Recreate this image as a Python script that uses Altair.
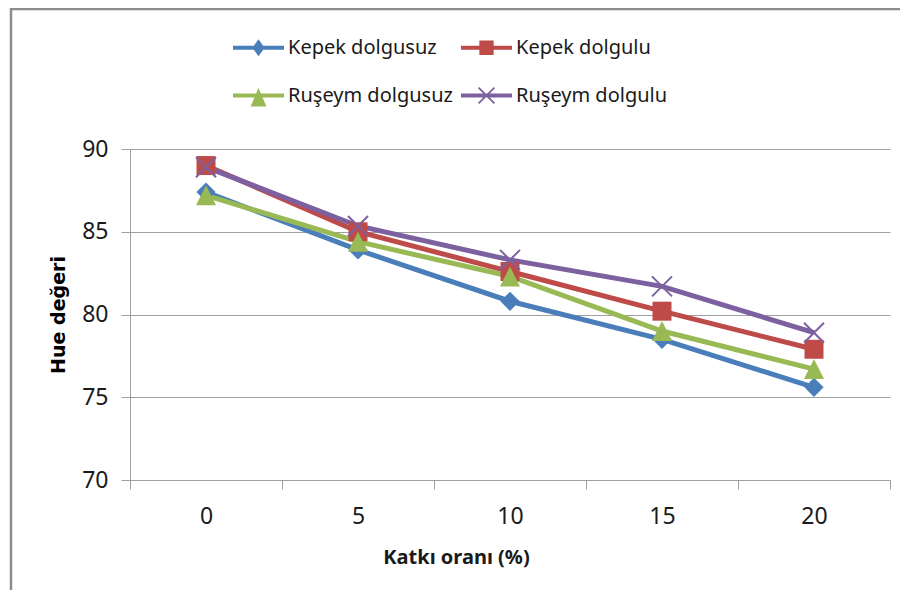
import altair as alt
import pandas as pd

# ---- data ----
x_values = [0, 5, 10, 15, 20]
series_names = ["Kepek dolgusuz", "Kepek dolgulu", "Ruşeym dolgusuz", "Ruşeym dolgulu"]
kepek_dolgusuz = [87.4, 83.9, 80.8, 78.5, 75.6]
kepek_dolgulu = [89.0, 85.0, 82.6, 80.2, 77.9]
ruseym_dolgusuz = [87.2, 84.4, 82.3, 79.0, 76.7]
ruseym_dolgulu = [88.9, 85.35, 83.3, 81.7, 78.9]
y_ticks = [70, 75, 80, 85, 90]
x_ticks = [-2.5, 0, 2.5, 5, 7.5, 10, 12.5, 15, 17.5, 20, 22.5]
colors = ["#4A7EBB", "#BE4B48", "#98B954", "#7D60A0"]

series_values = [kepek_dolgusuz, kepek_dolgulu, ruseym_dolgusuz, ruseym_dolgulu]
rows = []
for name, vals in zip(series_names, series_values):
    for xv, yv in zip(x_values, vals):
        rows.append({"series": name, "x": xv, "y": yv})
df = pd.DataFrame(rows)

# ---- legend symbol shapes (line + marker), unit box scaled by symbol size ----
LT = 0.078
line_p = f"M-1,-{LT}H1V{LT}H-1Z"
diamond_p = "M0,-0.333L0.24,0L0,0.333L-0.24,0Z"
square_p = "M-0.28,-0.28H0.28V0.28H-0.28Z"
tri_p = "M0,-0.29L0.31,0.43L-0.31,0.43Z"
a, d = 0.31, 0.025
x1 = f"M{-a+d},{-a-d}L{a+d},{a-d}L{a-d},{a+d}L{-a-d},{-a+d}Z"
x2 = f"M{-a-d},{a-d}L{a-d},{-a-d}L{a+d},{-a+d}L{-a+d},{a+d}Z"
legend_paths = [line_p + diamond_p, line_p + square_p, line_p + tri_p, line_p + x1 + x2]
LEG_SIZE = 2601

GRID = "#A0A0A0"
LABEL_FONT = "Noto Sans"

x_enc = alt.X(
    "x:Q",
    scale=alt.Scale(domain=[-2.5, 22.5], nice=False, zero=False),
    axis=alt.Axis(
        values=x_ticks,
        labelExpr="datum.value % 5 === 0 ? datum.label : ''",
        tickOpacity=alt.condition("datum.value % 5 === 0", alt.value(0), alt.value(1)),
        grid=False,
        tickSize=9,
        tickColor=GRID,
        domainColor=GRID,
        labelFont=LABEL_FONT,
        labelFontSize=23,
        labelColor="#1a1a1a",
        labelPadding=16,
        labelOverlap=False,
        labelFlush=False,
        title="Katkı oranı (%)",
        titleFont=LABEL_FONT,
        titleFontSize=20,
        titleFontWeight="bold",
        titleColor="#1a1a1a",
        titleX=326,
        titleY=77,
        titleAlign="center",
        titleBaseline="middle",
    ),
)
y_enc = alt.Y(
    "y:Q",
    scale=alt.Scale(domain=[70, 90], nice=False, zero=False),
    axis=alt.Axis(
        values=y_ticks,
        grid=True,
        gridColor=GRID,
        gridWidth=1,
        tickSize=9,
        tickColor=GRID,
        domainColor=GRID,
        labelFont=LABEL_FONT,
        labelFontSize=23,
        labelColor="#1a1a1a",
        labelPadding=13,
        title="Hue değeri",
        titleFont="DejaVu Sans",
        titleFontSize=19,
        titleFontWeight="bold",
        titleColor="#000000",
        titleAngle=270,
        titleX=-72,
        titleY=165.5,
        titleAlign="center",
        titleBaseline="middle",
    ),
)

base = alt.Chart(df)


def series_line(i):
    return base.transform_filter(alt.datum.series == series_names[i]).mark_line(
        strokeWidth=5, color=colors[i]
    ).encode(x=x_enc, y=y_enc)


def series_markers(i, **mark_kw):
    return base.transform_filter(alt.datum.series == series_names[i]).mark_point(
        color=colors[i], opacity=1, **mark_kw
    ).encode(x=x_enc, y=y_enc)


lines = [series_line(i) for i in range(4)]
m1 = series_markers(0, shape="diamond", size=370, filled=True)
m2 = series_markers(1, shape="square", size=361, filled=True)
m3 = series_markers(2, shape="M0,-1L1,1L-1,1Z", size=400, filled=True)
m4 = series_markers(3, shape="M-1,-1L1,1M-1,1L1,-1", size=400, filled=False, strokeWidth=2)

leg = alt.Legend(
    title=None,
    orient="none",
    legendX=103,
    legendY=-127,
    direction="horizontal",
    columns=2,
    columnPadding=8,
    rowPadding=12,
    padding=0,
    symbolSize=LEG_SIZE,
    symbolStrokeWidth=0,
    symbolOpacity=1,
    labelOffset=4,
    labelFont=LABEL_FONT,
    labelFontSize=20,
    labelColor="#1a1a1a",
    labelLimit=400,
)

legend_layer = base.mark_point(filled=True, opacity=0, size=LEG_SIZE).encode(
    x=x_enc, y=y_enc,
    color=alt.Color("series:N", scale=alt.Scale(domain=series_names, range=colors), legend=leg),
    shape=alt.Shape("series:N", scale=alt.Scale(domain=series_names, range=legend_paths), legend=leg),
)

frame = alt.Chart(pd.DataFrame({"f": [0]})).mark_rect(
    fill="transparent", stroke="#8C8C8C", strokeWidth=2.5
).encode(
    x=alt.value(-119), x2=alt.value(900), y=alt.value(-140), y2=alt.value(700)
)

chart = alt.layer(frame, *lines, m1, m2, m3, m4, legend_layer).properties(
    width=760,
    height=331,
    autosize=alt.AutoSizeParams(type="none"),
    padding={"left": 122, "top": 141, "right": 10, "bottom": 110},
    background="white",
).configure_view(stroke="transparent")

chart.save("out.html", embed_options={"renderer": "svg", "actions": False})
